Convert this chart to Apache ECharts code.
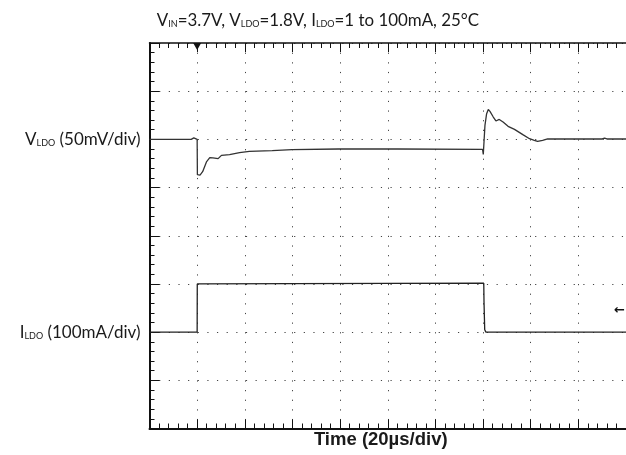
<!DOCTYPE html>
<html>
<head>
<meta charset="utf-8">
<script src="https://cdn.jsdelivr.net/npm/echarts@6/dist/echarts.min.js"></script>
<style>html,body{margin:0;padding:0;background:#fff;}#c{width:626px;height:455px;}</style>
</head>
<body>
<div id="c"></div>
<script>
// Time axis: 0..200 µs (20 µs/div); vertical axis: 8 divisions
var xTicks = [0, 20, 40, 60, 80, 100, 120, 140, 160, 180, 200];
// V_LDO deviation from its 1.8V level, in mV (50 mV/div, centred on division 6)
var vldoTime = [0, 17.5, 17.8, 18.6, 18.9, 20, 20.1, 21.2, 22.3, 23.9, 25.3, 26.6, 28.8, 30.2, 33.6, 37.8, 41.9, 51.5, 59.8, 79.3, 104, 139.8,
                140.1, 140.8, 141.5, 142.2, 142.9, 144.3, 145.4, 146.8, 148.4, 150.5, 153.2, 156.7, 159.5, 161.5, 162.9, 165, 167.1, 190, 191, 192, 200];
var vldoMv   = [0, 0, 1.5, 1.5, 0, 0, -36.6, -37, -33.5, -23.4, -19, -19.3, -20, -16.6, -15.9, -13.8, -12.4, -11.7, -10.7, -10, -10, -10.4,
                -15.6, 14.5, 26.7, 31.1, 29, 23.2, 19.1, 20.7, 18, 13.5, 10.4, 4.9, 0.7, -1, -2.1, -1, 0.4, 0.4, 1.2, 0.4, 0.4];
// I_LDO load current in mA (100 mA/div, zero at division 2)
var ildoTime = [0, 20, 20.05, 20.7, 140.3, 140.4, 140.7, 141.2, 200];
var ildoMa   = [0, 0, 100, 101.5, 101.5, 63, 5, 0, 0];

var V_CENTER = 6, V_PER_DIV = 50, I_ZERO = 2, I_PER_DIV = 100;
var vldoData = vldoTime.map(function (t, i) { return [t, V_CENTER + vldoMv[i] / V_PER_DIV]; });
var ildoData = ildoTime.map(function (t, i) { return [t, I_ZERO + ildoMa[i] / I_PER_DIV]; });

var FONT = 'Lato';
function mkRich(size, sub, drop) {
  return {
    a: { fontFamily: FONT, fontSize: size, fontWeight: 'normal', color: '#1a1a1a' },
    s: { fontFamily: FONT, fontSize: sub, fontWeight: 'normal', color: '#1a1a1a', padding: [drop, 0, 0, 0] }
  };
}
var chart = echarts.init(document.getElementById('c'));
var dot = { color: '#444', width: 1, type: [1.2, 8.44] };
chart.setOption({
  animation: false,
  title: {
    text: '{a|V}{s|IN}{a|=3.7V, V}{s|LDO}{a|=1.8V, I}{s|LDO}{a|=1 to 100mA, 25°C}',
    left: 313, top: 7, textAlign: 'center',
    textStyle: { fontWeight: 'normal', rich: mkRich(16.9, 9, 8) }
  },
  grid: { left: 149.5, top: 43, width: 482, height: 385.5 },
  xAxis: [{
    type: 'value', min: 0, max: 200, interval: 20, position: 'bottom',
    axisLine: { lineStyle: { color: '#111', width: 2 } },
    axisTick: { inside: true, length: 9, lineStyle: { color: '#111', width: 1 } },
    minorTick: { show: true, splitNumber: 5, length: 5, lineStyle: { color: '#111', width: 1 } },
    axisLabel: { show: false },
    splitLine: { show: true, lineStyle: dot },
    name: 'Time (20µs/div)', nameLocation: 'middle', nameGap: 2,
    nameTextStyle: { fontFamily: 'Liberation Sans', fontWeight: 'bold', fontSize: 18.5, color: '#1a1a1a', verticalAlign: 'top', padding: [0, 14, 0, 0] }
  }, {
    type: 'value', min: 0, max: 200, interval: 20, position: 'top',
    axisLine: { lineStyle: { color: '#111', width: 1.5 } },
    axisTick: { inside: true, length: 9, lineStyle: { color: '#111', width: 1 } },
    minorTick: { show: true, splitNumber: 5, length: 5, lineStyle: { color: '#111', width: 1 } },
    axisLabel: { show: false }, splitLine: { show: false }
  }],
  yAxis: {
    type: 'value', min: 0, max: 8, interval: 1,
    axisLine: { onZero: false, lineStyle: { color: '#111', width: 2 } },
    axisTick: { inside: true, length: 10, lineStyle: { color: '#111', width: 1 } },
    minorTick: { show: true, splitNumber: 5, length: 5, lineStyle: { color: '#111', width: 1 } },
    splitLine: { show: true, lineStyle: dot },
    axisLabel: {
      margin: 9,
      formatter: function (v) {
        if (v === V_CENTER) return '{a|V}{s|LDO}{a| (50mV/div)}';
        if (v === I_ZERO) return '{a|I}{s|LDO}{a| (100mA/div)}';
        return '';
      },
      rich: mkRich(17, 9, 8)
    }
  },
  series: [{
    name: 'VLDO', type: 'line', data: vldoData, showSymbol: false,
    lineStyle: { color: '#333', width: 1.3 },
    markPoint: {
      symbol: 'triangle', symbolRotate: 180, symbolSize: [8, 7], symbolOffset: [0, 3.5],
      itemStyle: { color: '#111' }, label: { show: false },
      data: [{ coord: [20, 8] }]
    }
  }, {
    name: 'ILDO', type: 'line', data: ildoData, showSymbol: false,
    lineStyle: { color: '#222', width: 1.3 },
    markPoint: {
      symbol: 'circle', symbolSize: 0,
      label: { show: true, formatter: '←', fontFamily: 'DejaVu Sans', fontWeight: 'bold', fontSize: 13, color: '#111', position: 'inside' },
      data: [{ coord: [197.2, 2.44] }]
    }
  }]
});
</script>
</body>
</html>
